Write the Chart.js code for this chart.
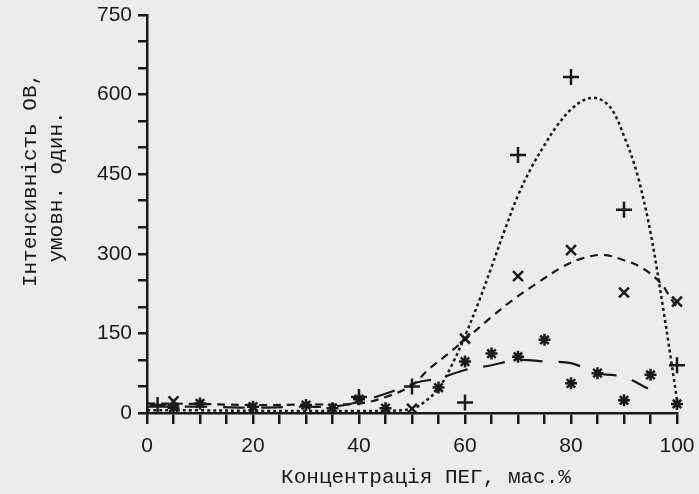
<!DOCTYPE html>
<html>
<head>
<meta charset="utf-8">
<script src="https://cdn.jsdelivr.net/npm/chart.js@4.4.1/dist/chart.umd.min.js"></script>
<style>
html,body{margin:0;padding:0;background:#ececec;}
#wrap{width:699px;height:494px;}
</style>
</head>
<body>
<div id="wrap"><canvas id="c" width="699" height="494"></canvas></div>
<script>
// ---- data ----
const plusX  = [2, 40, 50, 60, 70, 80, 90, 100];
const plusY  = [15, 30, 50, 20, 486, 633, 383, 90];

const crossX = [5, 50, 60, 70, 80, 90, 100];
const crossY = [22, 8, 140, 258, 307, 227, 210];

const starX  = [5, 10, 20, 30, 35, 40, 45, 55, 60, 65, 70, 75, 80, 85, 90, 95, 100];
const starY  = [10, 18, 12, 15, 9, 26, 9, 48, 97, 112, 106, 138, 56, 75, 24, 72, 17];

// fitted curves drawn in the figure
const dotX   = [0, 10, 20, 30, 40, 45, 50, 52.5, 55, 57.5, 60, 62.5, 65, 67.5, 70, 72.5, 75, 77.5, 80, 82.5, 85, 87.5, 90, 92.5, 95, 97.5, 100];
const dotY   = [5, 5, 4, 4, 4, 4, 8, 22, 46, 90, 145, 207, 275, 345, 410, 462, 505, 543, 572, 590, 593, 575, 522, 450, 340, 190, 25];

const dashX  = [0, 10, 20, 30, 40, 45, 50, 53, 56.5, 60, 65, 69, 73.5, 78.5, 82, 86, 90, 93.5, 97, 99, 100];
const dashY  = [18, 17, 15, 16, 18, 30, 52, 81, 109, 138, 181, 213, 244, 276, 291, 298, 288, 273, 244, 213, 200];

const longX  = [0, 10, 20, 30, 35, 40, 47, 51, 55, 60, 65, 70, 75, 80, 85, 90, 94.5];
const longY  = [12, 12, 10, 12, 12, 21, 43, 58, 65, 81, 90, 100, 97, 94, 75, 68, 46];

const xLabelEvery = 20;
const yLabelEvery = 150;
const xTitle = 'Концентрація ПЕГ, мас.%';
const yTitle = ['Інтенсивність ОВ,', 'умовн. один.'];

// ---- build ----
const pts = (xs, ys) => xs.map((x, i) => ({x: x, y: ys[i]}));
const INK = '#1a1a1a';

const markerSet = (label, xs, ys, style, r) => ({
  label, data: pts(xs, ys), showLine: false, pointStyle: style,
  pointRadius: r, pointHoverRadius: r, pointBorderWidth: 2.5,
  pointBorderColor: INK, pointBackgroundColor: INK, clip: false
});
const lineSet = (label, xs, ys, dash, w) => ({
  label, data: pts(xs, ys), showLine: true, pointRadius: 0,
  borderColor: INK, borderWidth: w, borderDash: dash,
  tension: 0.35, fill: false, clip: false
});

const decor = {
  id: 'decor',
  beforeDraw(chart) {
    const c = chart.ctx;
    c.save();
    c.fillStyle = '#ececec';
    c.fillRect(0, 0, chart.width, chart.height);
    c.restore();
  },
  afterDraw(chart) {
    const c = chart.ctx;
    c.save();
    c.fillStyle = INK;
    c.font = '21px "Liberation Mono", "DejaVu Sans Mono", monospace';
    c.textAlign = 'center';
    c.textBaseline = 'middle';
    c.fillText(xTitle, 426, 477);
    const pos = [[30, 180], [56, 187]];
    yTitle.forEach((t, i) => {
      c.save();
      c.translate(pos[i][0], pos[i][1]);
      c.rotate(-Math.PI / 2);
      c.fillText(t, 0, 0);
      c.restore();
    });
    c.restore();
  }
};

Chart.defaults.font.family = '"Liberation Sans", Arial, sans-serif';
Chart.defaults.font.size = 21;
Chart.defaults.color = INK;

new Chart(document.getElementById('c'), {
  type: 'scatter',
  data: {
    datasets: [
      lineSet('fit +', dotX, dotY, [3, 3], 2.5),
      lineSet('fit x', dashX, dashY, [8, 6], 2.2),
      lineSet('fit *', longX, longY, [22, 16], 2.2),
      markerSet('+', plusX, plusY, 'cross', 8),
      markerSet('x', crossX, crossY, 'crossRot', 7),
      markerSet('*', starX, starY, 'star', 6)
    ]
  },
  options: {
    responsive: false,
    animation: false,
    layout: {padding: {top: 15, right: 22, bottom: 0, left: 0}},
    plugins: {legend: {display: false}, tooltip: {enabled: false}},
    scales: {
      x: {
        type: 'linear', min: 0, max: 100,
        border: {display: true, color: INK, width: 2.5},
        grid: {drawOnChartArea: false, drawTicks: true, tickLength: 11, color: INK, lineWidth: 2.5},
        ticks: {
          stepSize: 5, autoSkip: false, maxRotation: 0, padding: 10,
          callback: v => (v % xLabelEvery === 0 ? String(v) : '')
        },
        afterFit: s => { s.height = 81; s.paddingLeft = 0; s.paddingRight = 0; }
      },
      y: {
        type: 'linear', min: 0, max: 750,
        border: {display: true, color: INK, width: 2.5},
        grid: {drawOnChartArea: false, drawTicks: true, tickLength: 9, color: INK, lineWidth: 2.5},
        ticks: {
          stepSize: 50, autoSkip: false, padding: 6,
          callback: v => (v % yLabelEvery === 0 ? String(v) : '')
        },
        afterFit: s => { s.width = 147; s.paddingTop = 0; s.paddingBottom = 0; }
      }
    }
  },
  plugins: [decor]
});
</script>
</body>
</html>
